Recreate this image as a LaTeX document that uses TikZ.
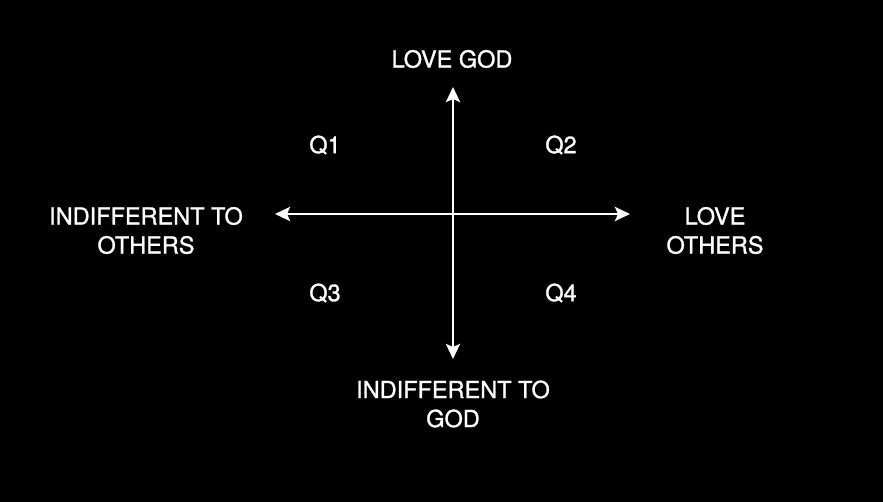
\documentclass[tikz,border=0pt]{standalone}
\usepackage{fontspec}
\setmainfont{TeX Gyre Heros}[RawFeature={embolden=1.2}]
\usetikzlibrary{arrows.meta}
\begin{document}
\begin{tikzpicture}[x=1pt,y=-1pt,
  lbl/.style={text=white,font=\fontsize{23.5}{29}\selectfont,align=center,inner sep=0pt},
  axis/.style={draw=white,line width=2.8pt,{Stealth[length=15pt,width=14pt,inset=3pt]}-{Stealth[length=15pt,width=14pt,inset=3pt]}}]
\fill[black] (0,0) rectangle (883,502);
\useasboundingbox (0,0) rectangle (883,502);
\coordinate (top) at (453,87);
\coordinate (bot) at (453,359);
\coordinate (lft) at (275,214);
\coordinate (rgt) at (630,214);
\draw[axis] (top) -- (bot);
\draw[axis] (lft) -- (rgt);
\node[lbl] (lovegod) at (452,59) {LOVE GOD};
\node[lbl] (indgod) at (453,404) {INDIFFERENT TO\\GOD};
\node[lbl] (indoth) at (146,230.5) {INDIFFERENT TO\\OTHERS};
\node[lbl] (loveoth) at (715,230.5) {LOVE\\OTHERS};
\node[lbl] (q1) at (325,145) {Q1};
\node[lbl] (q2) at (561,145) {Q2};
\node[lbl] (q3) at (325,293) {Q3};
\node[lbl] (q4) at (561,293) {Q4};
\end{tikzpicture}
\end{document}
